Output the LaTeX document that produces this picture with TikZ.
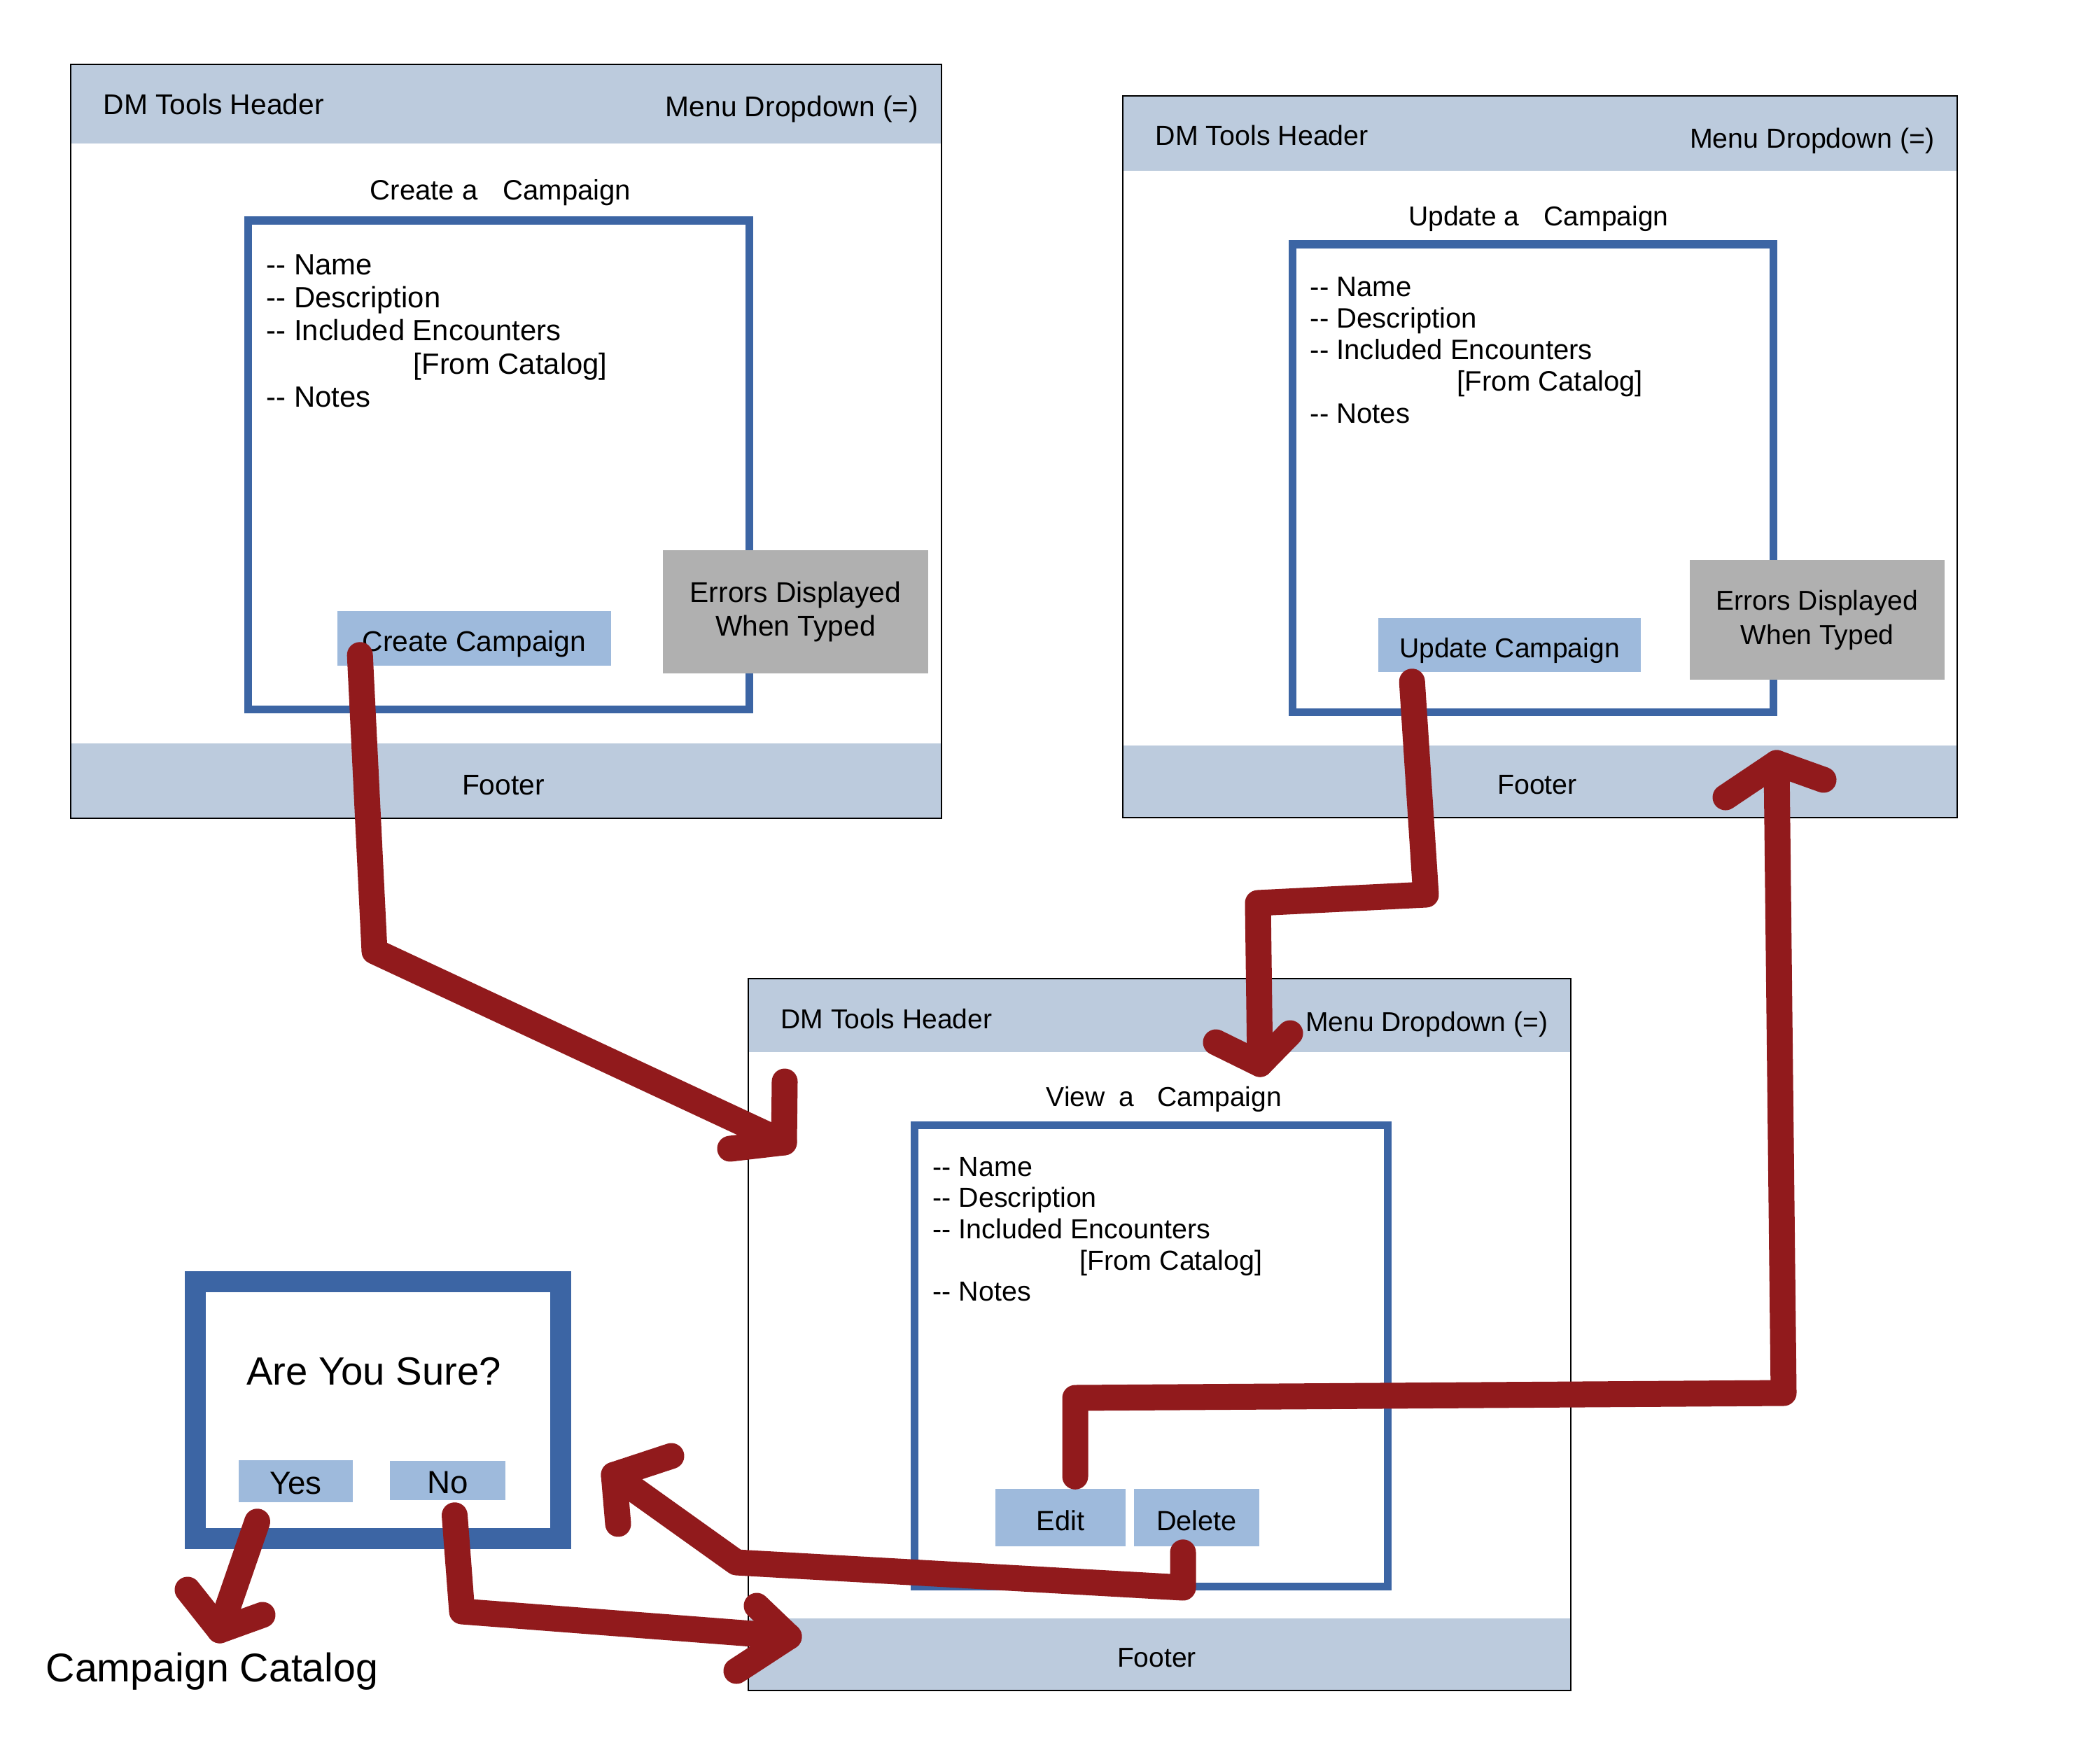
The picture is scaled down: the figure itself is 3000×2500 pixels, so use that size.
\documentclass[tikz,border=0pt]{standalone}
\usepackage{fontspec}
\setmainfont{Liberation Sans}
\definecolor{bandblue}{HTML}{BCCBDD}
\definecolor{formblue}{HTML}{3C65A4}
\definecolor{buttonblue}{HTML}{9EBADC}
\definecolor{errorgray}{HTML}{B0B0B0}
\definecolor{flowred}{HTML}{911A1C}
\newcommand\flowhead[3]{\draw[flow] ([shift={(#2)}]#1) -- (#1) -- ([shift={(#3)}]#1);}

\begin{document}
\begin{tikzpicture}[x=0.01cm, y=-0.01cm,
  uitext/.style={inner sep=0pt, font=\fontsize{#1}{13.9}\selectfont},
  uitext/.default=11.6,
  button/.style={fill=buttonblue, inner sep=0pt, font=\fontsize{#1}{13.9}\selectfont, text height=0.44cm, text depth=0.08cm},
  button/.default=11.6,
  errorbox/.style={fill=errorgray, inner sep=0pt, font=\fontsize{#1}{13.9}\selectfont, align=center},
  errorbox/.default=11.6,
  flow/.style={draw=flowred, line width=0.37cm, line cap=round, line join=round}]
  \useasboundingbox (0,0) rectangle (3000,2500);
  \foreach \xa/\ya/\xb/\yb/\hb/\ft/\fs/\n in {101/92/1345/1169/205/1062/11.6/1, 1604/137/2796/1168/244/1065/11.2/2, 1069/1398/2244/2415/1503/2312/11.1/3} {
    \fill[bandblue] (\xa,\ya) rectangle (\xb,\hb);
    \fill[bandblue] (\xa,\ft) rectangle (\xb,\yb);
    \draw[line width=0.6pt] (\xa,\ya) rectangle (\xb,\yb);
    \node[uitext=\fs, anchor=base west] (head\n) at (\xa+46,\ya+71) {DM Tools Header};
    \node[uitext=\fs, anchor=base east] (menu\n) at (\xb-32,\ya+75) {Menu Dropdown (=)};
    \node[uitext=\fs, anchor=base] (foot\n) at ({(\xa+\xb)/2-4},\yb-34) {Footer};
  }
  \draw[formblue, line width=0.11cm] (354,315) rectangle (1070,1013);
  \draw[formblue, line width=0.11cm] (1846,349) rectangle (2533,1017);
  \draw[formblue, line width=0.11cm] (1306,1607) rectangle (1982,2266);
  \node[uitext=11.4, anchor=base] (title1) at (715,285) {Create a\hspace{0.9em}Campaign};
  \node[uitext=11.1, anchor=base] (title2) at (2198,322) {Update a\hspace{0.9em}Campaign};
  \node[uitext=11.1, anchor=base] (title3) at (1663,1580) {View\hspace{0.5em}a\hspace{0.85em}Campaign};
  \foreach \lx/\ly/\dy/\fs/\n in {380/392/47.4/11.9/1, 1871/423/45.3/11.4/2, 1332/1680/44.7/11.2/3}
    \foreach \t [count=\i] in {-{}- Name, -{}- Description, -{}- Included Encounters, \hspace*{2.1cm}[From Catalog], -{}- Notes}
      \node[uitext=\fs, anchor=base west] (field\n\i) at (\lx,{\ly+\dy*(\i-1)}) {\t};
  \node[button, minimum width=3.91cm, minimum height=0.78cm] (createbtn) at (677.5,912) {Create Campaign};
  \node[button=11.1, minimum width=3.75cm, minimum height=0.77cm] (updatebtn) at (2156.5,921.5) {Update Campaign};
  \node[button=11.3, minimum width=1.86cm, minimum height=0.82cm] (editbtn) at (1515,2168) {Edit};
  \node[button=11.3, minimum width=1.79cm, minimum height=0.82cm] (deletebtn) at (1709.5,2168) {Delete};
  \node[errorbox, minimum width=3.79cm, minimum height=1.76cm] (errors1) at (1136.5,874) {Errors Displayed\\When Typed};
  \node[errorbox=11.1, minimum width=3.64cm, minimum height=1.71cm] (errors2) at (2596,885.5) {Errors Displayed\\When Typed};
  \draw[formblue, line width=0.3cm] (279,1831) rectangle (801,2198);
  \node[uitext=16, anchor=base] (sure) at (534,1978) {Are You Sure?};
  \node[button=13, minimum width=1.63cm, minimum height=0.6cm] (yesbtn) at (422.5,2116) {Yes};
  \node[button=13, minimum width=1.65cm, minimum height=0.56cm] (nobtn) at (639.5,2115) {No};
  \node[uitext=16.3, anchor=base west] (catalog) at (65,2402) {Campaign Catalog};
  \coordinate (viewin) at (1120,1632);
  \coordinate (viewtop) at (1800,1520);
  \coordinate (updatefoot) at (2538,1090);
  \coordinate (dialogin) at (877,2107);
  \coordinate (viewfoot) at (1127,2338);
  \coordinate (catalogin) at (314,2329);
  \draw[flow] ([shift={(33,-16)}]createbtn.south west) -- (535,1359) -- (viewin);
  \flowhead{viewin}{1,-87}{-77,9}
  \draw[flow] ([shift={(49,13)}]updatebtn.south west) -- (2037,1278) -- (1797,1290) -- (viewtop);
  \flowhead{viewtop}{-63,-31}{43,-44}
  \draw[flow] ([shift={(21,-17)}]editbtn.north) -- (1536,1997) -- (2548,1990) -- (updatefoot);
  \flowhead{updatefoot}{-73,49}{67,24}
  \draw[flow] ([shift={(-19.5,8)}]deletebtn.south) -- (1690,2268) -- (1052,2232) -- (dialogin);
  \flowhead{dialogin}{82,-27}{6,70}
  \draw[flow] ([shift={(10,21)}]nobtn.south) -- (660,2302) -- (viewfoot);
  \flowhead{viewfoot}{-46,-44}{-75,49}
  \draw[flow] ([shift={(-55,27)}]yesbtn.south) -- (catalogin);
  \flowhead{catalogin}{-46,-58}{61,-22}
\end{tikzpicture}
\end{document}
